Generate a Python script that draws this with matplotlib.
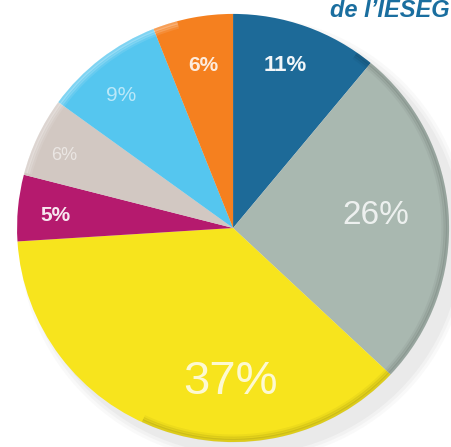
import matplotlib.pyplot as plt
from matplotlib.patches import Ellipse, Arc

shares = [11, 26, 37, 5, 6, 9, 6]
labels = ["11%", "26%", "37%", "5%", "6%", "9%", "6%"]
colors = ["#1d6a98", "#a9b8b0", "#f7e41d", "#b51a6e", "#d2c8c2", "#55c6ef", "#f5801f"]

# label placement (x, y in pie units), font size, weight, alpha per slice
lab_pos = [(0.24, 0.76), (0.66, 0.06), (-0.01, -0.72), (-0.82, 0.06), (-0.78, 0.34), (-0.52, 0.62), (-0.14, 0.76)]
lab_size = [16, 24, 34, 15, 13, 15, 15]
lab_weight = ["bold", "normal", "normal", "bold", "normal", "normal", "bold"]
lab_alpha = [0.95, 0.8, 0.8, 0.9, 0.55, 0.6, 0.85]

fig = plt.figure(figsize=(4.51, 4.47), dpi=100)
ax = fig.add_axes([0, 0, 1, 1])

# soft shadow
for i, a in enumerate([0.035, 0.045, 0.055]):
    ax.add_patch(Ellipse((0.05, -0.05), 2.08 - i * 0.03, 2.08 - i * 0.03,
                         color="#666666", alpha=a, lw=0, zorder=0))

ax.pie(shares, colors=colors, startangle=90, counterclock=False,
       radius=1, wedgeprops=dict(linewidth=0))
ax.set_aspect("auto")
ax.set_xlim(-1.079, 1.009)
ax.set_ylim(-1.023, 1.065)

# rim shading / highlight, a few soft passes
for d, a in [(1.985, 0.10), (1.965, 0.07), (1.945, 0.04)]:
    ax.add_patch(Arc((0, 0), d, d, theta1=-115, theta2=55, color="black",
                     alpha=a, lw=2.5, zorder=5))
    ax.add_patch(Arc((0, 0), d, d, theta1=105, theta2=165, color="white",
                     alpha=a * 2.5, lw=2.5, zorder=5))

for (x, y), t, s, w, a in zip(lab_pos, labels, lab_size, lab_weight, lab_alpha):
    ax.text(x, y, t, ha="center", va="center", fontsize=s, color="white",
            alpha=a, fontweight=w, family="Liberation Sans", zorder=6)

fig.text(0.996, 0.962, "de l\u2019IESEG", fontsize=17, color="#1a6e9f",
         fontweight="bold", fontstyle="italic", family="Liberation Sans",
         ha="right", va="baseline")

fig.savefig("out.png", dpi=100)
